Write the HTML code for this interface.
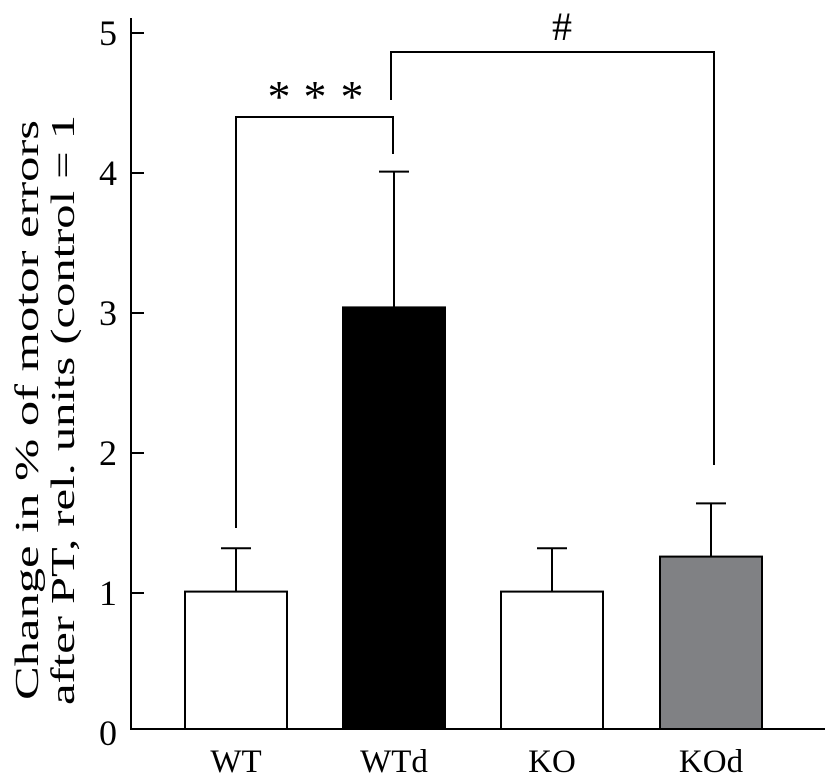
<!DOCTYPE html>
<html><head><meta charset="utf-8"><style>
body{margin:0;background:#fff}
svg text{font-family:"Liberation Serif",serif;fill:#000}
</style></head><body>
<svg width="825" height="779" viewBox="0 0 825 779">
<g id="axes"></g><g id="bars"></g>
<g fill="none" stroke="#000" stroke-width="2">
<polyline points="236,528 236,117 393,117 393,154"/>
<polyline points="391,100 391,52 714,52 714,465"/>
</g>
<text x="279" y="112" font-size="46" text-anchor="middle">*</text>
<text x="315" y="112" font-size="46" text-anchor="middle">*</text>
<text x="352" y="112" font-size="46" text-anchor="middle">*</text>
<text x="562" y="40" font-size="40" text-anchor="middle">#</text>
<text transform="translate(0,410) rotate(-90)" font-size="34" text-anchor="middle"><tspan x="0" y="38" textLength="580" lengthAdjust="spacingAndGlyphs">Change in % of motor errors</tspan><tspan x="0" y="74" textLength="590" lengthAdjust="spacingAndGlyphs">after PT, rel. units (control = 1</tspan></text>
</svg>
<script>
const categories=["WT","WTd","KO","KOd"];
const means=[1.01,3.04,1.01,1.26];
const errors=[0.31,0.97,0.31,0.38];
const fills=["#fff","#000","#fff","#808184"];
const yTicks=[0,1,2,3,4,5];
const NS="http://www.w3.org/2000/svg";
const y=v=>733-140*v;
const x=i=>[185,343,501,660][i];
const bw=102;
function mk(t,a,p){const e=document.createElementNS(NS,t);for(const k in a)e.setAttribute(k,a[k]);p.appendChild(e);return e;}
const ax=document.getElementById('axes'),bg=document.getElementById('bars');
let l=mk('line',{x1:131,y1:18,x2:131,y2:729,stroke:'#000','stroke-width':2},ax);


l=mk('line',{x1:130,y1:729,x2:825,y2:729,stroke:'#000','stroke-width':2},ax);


yTicks.forEach(v=>{
 if(v>0){const t=mk('line',{x1:131,y1:y(v),x2:144,y2:y(v),stroke:'#000','stroke-width':2},ax);
 
 }
 const tx=mk('text',{x:117,y:y(v)+12,'font-size':36,'text-anchor':'end'},ax);
 tx.textContent=v;
 
 
});
categories.forEach((c,i)=>{
 const cx=x(i)+bw/2;
 const e=mk('line',{x1:cx,y1:y(means[i]),x2:cx,y2:y(means[i]+errors[i]),stroke:'#000','stroke-width':2},bg);
 
 
 const cp=mk('line',{x1:cx-15,y1:y(means[i]+errors[i]),x2:cx+15,y2:y(means[i]+errors[i]),stroke:'#000','stroke-width':2},bg);
 
 
 const r=mk('rect',{x:x(i),y:y(means[i]),width:bw,height:729-y(means[i]),fill:fills[i],stroke:'#000','stroke-width':2},bg);
 
 
 const t=mk('text',{x:cx,y:772,'font-size':33,'text-anchor':'middle'},bg);
 t.textContent=c;
 
 
});
</script>
</body></html>
